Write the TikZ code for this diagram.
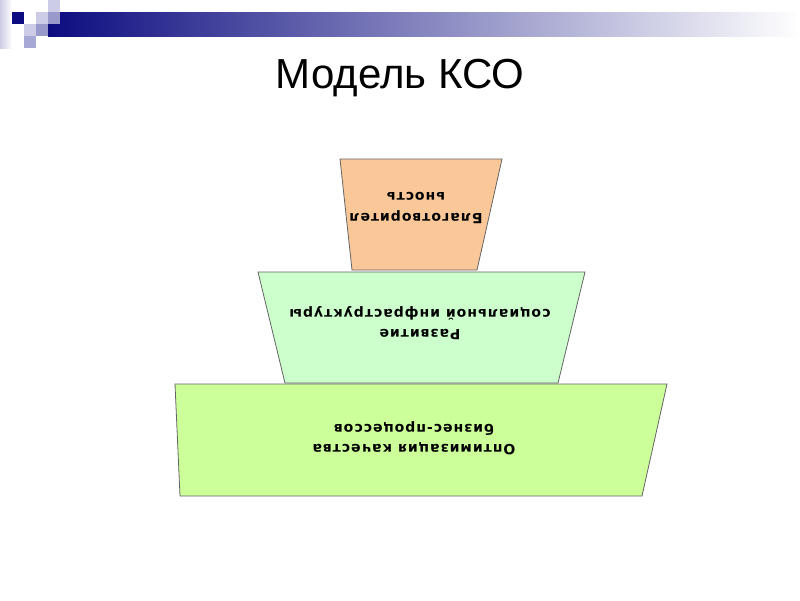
\documentclass[tikz,border=0pt]{standalone}
\usepackage{fontspec}
\setmainfont{Liberation Sans}
\newfontfamily\boxfont{DejaVu Sans}[LetterSpace=7]
\usepackage{xcolor}

\definecolor{barnavy}{RGB}{12,12,128}
\definecolor{sqlight}{RGB}{204,204,230}
\definecolor{sqmid}{RGB}{153,153,204}
\definecolor{peach}{RGB}{250,200,152}
\definecolor{mint}{RGB}{204,255,204}
\definecolor{lime}{RGB}{204,255,153}
\definecolor{edgegray}{RGB}{100,100,100}

\begin{document}
\begin{tikzpicture}[x=1pt,y=-1pt,
  tier/.style={draw=edgegray, line width=0.8pt},
  tiertext/.style={rotate=180, align=center, font=\boxfont\bfseries\fontsize{14}{20.5}\selectfont}]
\useasboundingbox (0,0) rectangle (800,600);

% Header bar
\shade[left color=barnavy, right color=white] (48,12) rectangle (800,36);
\shade[left color=sqlight, right color=white] (0,0) rectangle (12,48);

% Squares
\fill[barnavy] (12,12) rectangle (24,24);
\fill[sqlight] (36,12) rectangle (48,24);
\fill[sqlight] (48,0) rectangle (60,12);
\fill[sqmid] (48,12) rectangle (60,24);
\fill[sqlight] (24,24) rectangle (36,36);
\fill[sqmid] (36,24) rectangle (48,36);
\fill[sqmid!85!white] (24,36) rectangle (36,48);

% Title
\node[anchor=base, font=\fontsize{42}{48}\selectfont] (title) at (400,88) {Модель КСО};

% Tiers
\fill[peach] (340,159) -- (502,159) -- (477,270) -- (352,270) -- cycle;
\draw[tier] (340,159) -- (502,159) -- (477,270) -- (352,270) -- cycle;
\fill[mint] (258,272) -- (585,272) -- (558,383) -- (285,383) -- cycle;
\draw[tier] (258,272) -- (585,272) -- (558,383) -- (285,383) -- cycle;
\fill[lime] (175,384) -- (667,384) -- (642,496) -- (180,496) -- cycle;
\draw[tier] (175,384) -- (667,384) -- (642,496) -- (180,496) -- cycle;

% Labels
\node[tiertext] (charity) at (416,208) {Благотворител\\ьность};
\node[tiertext] (infra) at (420,323) {Развитие\\социальной инфраструктуры};
\node[tiertext] (quality) at (414,438) {Оптимизация качества\\бизнес-процессов};
\end{tikzpicture}
\end{document}
